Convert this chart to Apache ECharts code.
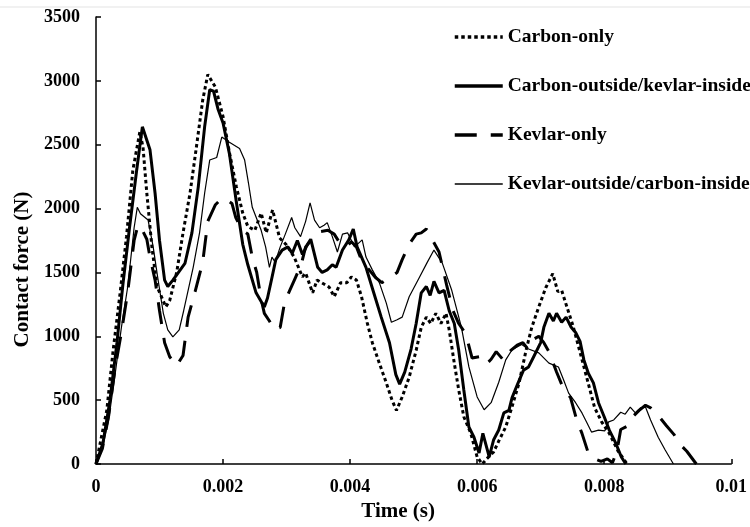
<!DOCTYPE html>
<html>
<head>
<meta charset="utf-8">
<script src="https://cdn.jsdelivr.net/npm/echarts@6/dist/echarts.min.js"></script>
<style>
html,body{margin:0;padding:0;background:#fff;}
#chart{width:750px;height:527px;}
</style>
</head>
<body>
<div id="chart"></div>
<script>
// ---- Data (time in s, force in N) ----
const seriesNames = ['Carbon-only', 'Carbon-outside/kevlar-inside', 'Kevlar-only', 'Kevlar-outside/carbon-inside'];

const carbonOnlyT = [0,0.00017,0.00027,0.00038,0.00048,0.00058,0.00069,0.00074,0.0008,0.00088,0.00096,0.0011,0.00116,0.00127,0.00137,0.00148,0.00158,0.00168,0.00176,0.00188,0.002,0.0021,0.00221,0.00231,0.00239,0.0025,0.0026,0.00268,0.00278,0.00289,0.003,0.00312,0.00325,0.0033,0.00341,0.00348,0.00355,0.00367,0.00375,0.00385,0.00395,0.00402,0.0041,0.00418,0.00427,0.00435,0.00446,0.00457,0.00466,0.00473,0.00482,0.00493,0.00504,0.00512,0.0052,0.00527,0.00535,0.00543,0.00551,0.00556,0.00564,0.00571,0.00579,0.0059,0.006,0.00608,0.00615,0.00626,0.00635,0.00645,0.00655,0.00666,0.00677,0.00686,0.00697,0.00708,0.00719,0.00727,0.00733,0.0074,0.00751,0.00766,0.00785,0.00796,0.00808,0.00822,0.00836];
const carbonOnlyF = [0,420,890,1340,1780,2300,2600,2480,2120,1700,1390,1230,1280,1500,1810,2120,2480,2850,3050,2950,2720,2440,2170,1965,1860,1830,1965,1810,1990,1770,1715,1620,1465,1495,1340,1440,1420,1385,1310,1420,1420,1465,1440,1310,1105,950,790,635,500,420,525,680,890,1070,1150,1100,1180,1100,1180,1050,790,580,370,240,55,0,40,95,190,290,450,635,890,1070,1230,1380,1490,1350,1360,1250,1080,800,440,330,240,100,0];

const carbonOutT = [0,0.00011,0.00022,0.00033,0.00042,0.00053,0.00064,0.00073,0.00085,0.00093,0.001,0.00108,0.00113,0.00121,0.00129,0.0014,0.00151,0.00161,0.00171,0.00179,0.00185,0.00192,0.002,0.0021,0.00221,0.00231,0.00239,0.00252,0.00265,0.0027,0.00277,0.00283,0.00293,0.00302,0.00309,0.00317,0.00325,0.00333,0.00338,0.00349,0.00356,0.00364,0.00372,0.00378,0.00388,0.00398,0.00405,0.00411,0.00425,0.00436,0.00449,0.00462,0.00472,0.00478,0.00486,0.00496,0.00504,0.00512,0.0052,0.00526,0.00532,0.0054,0.00548,0.00556,0.00564,0.00571,0.00579,0.00587,0.00595,0.00603,0.00609,0.00619,0.00626,0.00634,0.00642,0.0065,0.00655,0.00664,0.00673,0.00681,0.00689,0.007,0.00705,0.00713,0.0072,0.00725,0.00733,0.0074,0.00748,0.00755,0.00762,0.00768,0.00775,0.00783,0.00791,0.008,0.00808,0.00818,0.00827,0.00834];
const carbonOutF = [0,165,500,950,1390,1860,2300,2640,2460,2120,1750,1440,1390,1440,1495,1570,1810,2170,2640,2930,2920,2780,2670,2430,2050,1720,1560,1340,1230,1300,1460,1600,1675,1700,1650,1750,1640,1720,1760,1540,1500,1520,1560,1540,1675,1755,1840,1700,1540,1360,1150,950,700,625,720,900,1100,1340,1390,1320,1430,1340,1360,1200,1100,890,580,290,210,86,240,55,190,266,400,420,520,630,735,760,840,950,1070,1180,1120,1180,1110,1150,1070,1030,960,815,710,635,480,370,265,165,55,0];

const kevlarOnlyT = [0,0.0001,0.0002,0.0003,0.0004,0.0005,0.0006,0.00066,0.00072,0.0008,0.00085,0.00093,0.001,0.00108,0.00116,0.00127,0.00137,0.00145,0.00156,0.00168,0.00176,0.00188,0.00198,0.00205,0.00214,0.0022,0.0023,0.00239,0.00246,0.00253,0.0026,0.00265,0.00273,0.00281,0.0029,0.00297,0.00305,0.00314,0.00323,0.0033,0.0034,0.00353,0.00365,0.00375,0.00385,0.00394,0.00402,0.0041,0.0042,0.0043,0.0044,0.0045,0.00462,0.00474,0.00482,0.00493,0.00504,0.00512,0.0052,0.00529,0.0054,0.00552,0.00562,0.00571,0.00582,0.00592,0.00603,0.00614,0.00622,0.0063,0.00642,0.00653,0.00663,0.00672,0.0068,0.0069,0.00697,0.00705,0.00713,0.00725,0.00735,0.00747,0.00757,0.00765,0.00775,0.00785,0.00795,0.00805,0.00813,0.0082,0.00826,0.00838,0.00845,0.00855,0.00865,0.00873,0.00885,0.00898,0.0091,0.0092,0.0093,0.00945];
const kevlarOnlyF = [0,120,380,750,1030,1350,1750,1870,1840,1760,1620,1440,1200,950,840,770,850,1150,1350,1580,1900,2030,2080,2070,2040,1930,1830,1800,1620,1500,1290,1180,1120,1050,1070,1270,1360,1460,1560,1700,1760,1820,1830,1800,1720,1700,1740,1700,1570,1520,1460,1420,1460,1500,1600,1720,1800,1810,1840,1760,1660,1400,1200,1100,1020,830,840,780,820,880,810,890,930,950,900,980,1000,950,880,720,600,520,340,240,85,40,20,40,10,100,270,300,370,420,460,440,380,300,230,150,100,0];

const kevlarOutT = [0,0.0001,0.0002,0.0003,0.0004,0.0005,0.0006,0.00065,0.0007,0.00082,0.0009,0.00097,0.00106,0.00113,0.00121,0.00131,0.00138,0.00153,0.00163,0.00171,0.00179,0.0019,0.00198,0.0021,0.00226,0.00234,0.0024,0.00246,0.0026,0.00267,0.00273,0.00277,0.00282,0.0029,0.00298,0.00308,0.00313,0.00322,0.0033,0.00337,0.00344,0.00352,0.00359,0.00364,0.00372,0.0038,0.00388,0.00396,0.00407,0.00419,0.00425,0.00435,0.00446,0.00457,0.00465,0.00474,0.00482,0.00493,0.00509,0.00521,0.00532,0.00545,0.0056,0.00575,0.00587,0.006,0.00611,0.00622,0.00634,0.00645,0.00655,0.0067,0.00681,0.00697,0.00713,0.00728,0.00736,0.00744,0.00755,0.00765,0.00772,0.0078,0.00791,0.00801,0.00807,0.00815,0.00826,0.00833,0.00841,0.00849,0.00857,0.00865,0.00873,0.00885,0.00896,0.00909];
const kevlarOutF = [0,120,350,700,1070,1390,1850,2010,1960,1910,1700,1465,1180,1050,995,1050,1200,1540,1810,2120,2380,2400,2560,2520,2470,2380,2200,2010,1830,1700,1540,1620,1580,1700,1800,1930,1850,1780,1900,2045,1910,1850,1870,1890,1780,1660,1800,1810,1700,1755,1620,1520,1420,1260,1110,1130,1150,1310,1460,1575,1675,1575,1360,1075,760,525,425,480,640,815,895,935,900,870,790,760,660,555,480,400,330,250,265,260,330,345,405,390,445,400,440,446,345,210,110,0];

// axis ticks
const xTicks = [0, 0.002, 0.004, 0.006, 0.008, 0.01];
const yTicks = [0, 500, 1000, 1500, 2000, 2500, 3000, 3500];

function pairs(t, f) { return t.map((v, i) => [v, f[i]]); }

const FONT = 'Liberation Serif';
const chart = echarts.init(document.getElementById('chart'), null, {renderer: 'canvas'});

const styles = [
  {width: 3, type: [3.5, 3]},
  {width: 3, type: 'solid'},
  {width: 3, type: [22, 14]},
  {width: 1.2, type: 'solid'}
];

const baseSeries = (i, t, f) => ({
  name: seriesNames[i],
  type: 'line',
  data: pairs(t, f),
  symbol: 'none',
  showSymbol: false,
  smooth: false,
  lineStyle: {color: '#000', width: styles[i].width, type: styles[i].type, cap: 'butt'},
  itemStyle: {color: '#000'},
  emphasis: {disabled: true},
  z: 3
});

chart.setOption({
  animation: false,
  backgroundColor: '#fff',
  grid: {left: 96, right: 17, top: 17, bottom: 63, containLabel: false},
  legend: {
    orient: 'vertical',
    left: 453,
    top: 27,
    padding: 0,
    itemWidth: 48,
    itemHeight: 14,
    itemGap: 29,
    data: seriesNames.map((n, i) => ({
      name: n,
      lineStyle: {color: '#000', width: i === 3 ? 1.5 : 3.5, type: styles[i].type}
    })),
    itemStyle: {opacity: 0},
    textStyle: {fontFamily: FONT, fontWeight: 'bold', fontSize: 19.5, color: '#000'},
    selectedMode: false
  },
  xAxis: {
    type: 'value',
    min: xTicks[0],
    max: xTicks[xTicks.length - 1],
    interval: xTicks[1] - xTicks[0],
    name: 'Time (s)',
    nameLocation: 'middle',
    nameGap: 34,
    nameTextStyle: {fontFamily: FONT, fontWeight: 'bold', fontSize: 21, color: '#000', padding: [0, 31, 0, 0]},
    axisLine: {lineStyle: {color: '#000', width: 1.5}},
    axisTick: {inside: true, length: 5, lineStyle: {color: '#000', width: 1.5}},
    axisLabel: {fontFamily: FONT, fontWeight: 'bold', fontSize: 18, color: '#000', margin: 14,
      formatter: v => String(+(+v).toFixed(3))},
    splitLine: {show: false}
  },
  yAxis: {
    type: 'value',
    min: yTicks[0],
    max: yTicks[yTicks.length - 1],
    interval: yTicks[1] - yTicks[0],
    name: 'Contact force (N)',
    nameLocation: 'middle',
    nameGap: 63,
    nameTextStyle: {fontFamily: FONT, fontWeight: 'bold', fontSize: 21, color: '#000', padding: [0, 58, 0, 0]},
    axisLine: {show: true, lineStyle: {color: '#000', width: 1.5}},
    axisTick: {show: true, inside: true, length: 5, lineStyle: {color: '#000', width: 1.5}},
    axisLabel: {fontFamily: FONT, fontWeight: 'bold', fontSize: 18, color: '#000', margin: 16,
      formatter: v => String(Math.round(v))},
    splitLine: {show: false}
  },
  graphic: [{
    type: 'line',
    shape: {x1: 0, y1: 7, x2: 750, y2: 7},
    style: {stroke: '#e3e3e3', lineWidth: 1},
    silent: true
  }],
  series: [
    baseSeries(0, carbonOnlyT, carbonOnlyF),
    baseSeries(1, carbonOutT, carbonOutF),
    baseSeries(2, kevlarOnlyT, kevlarOnlyF),
    baseSeries(3, kevlarOutT, kevlarOutF)
  ]
});
</script>
</body>
</html>
